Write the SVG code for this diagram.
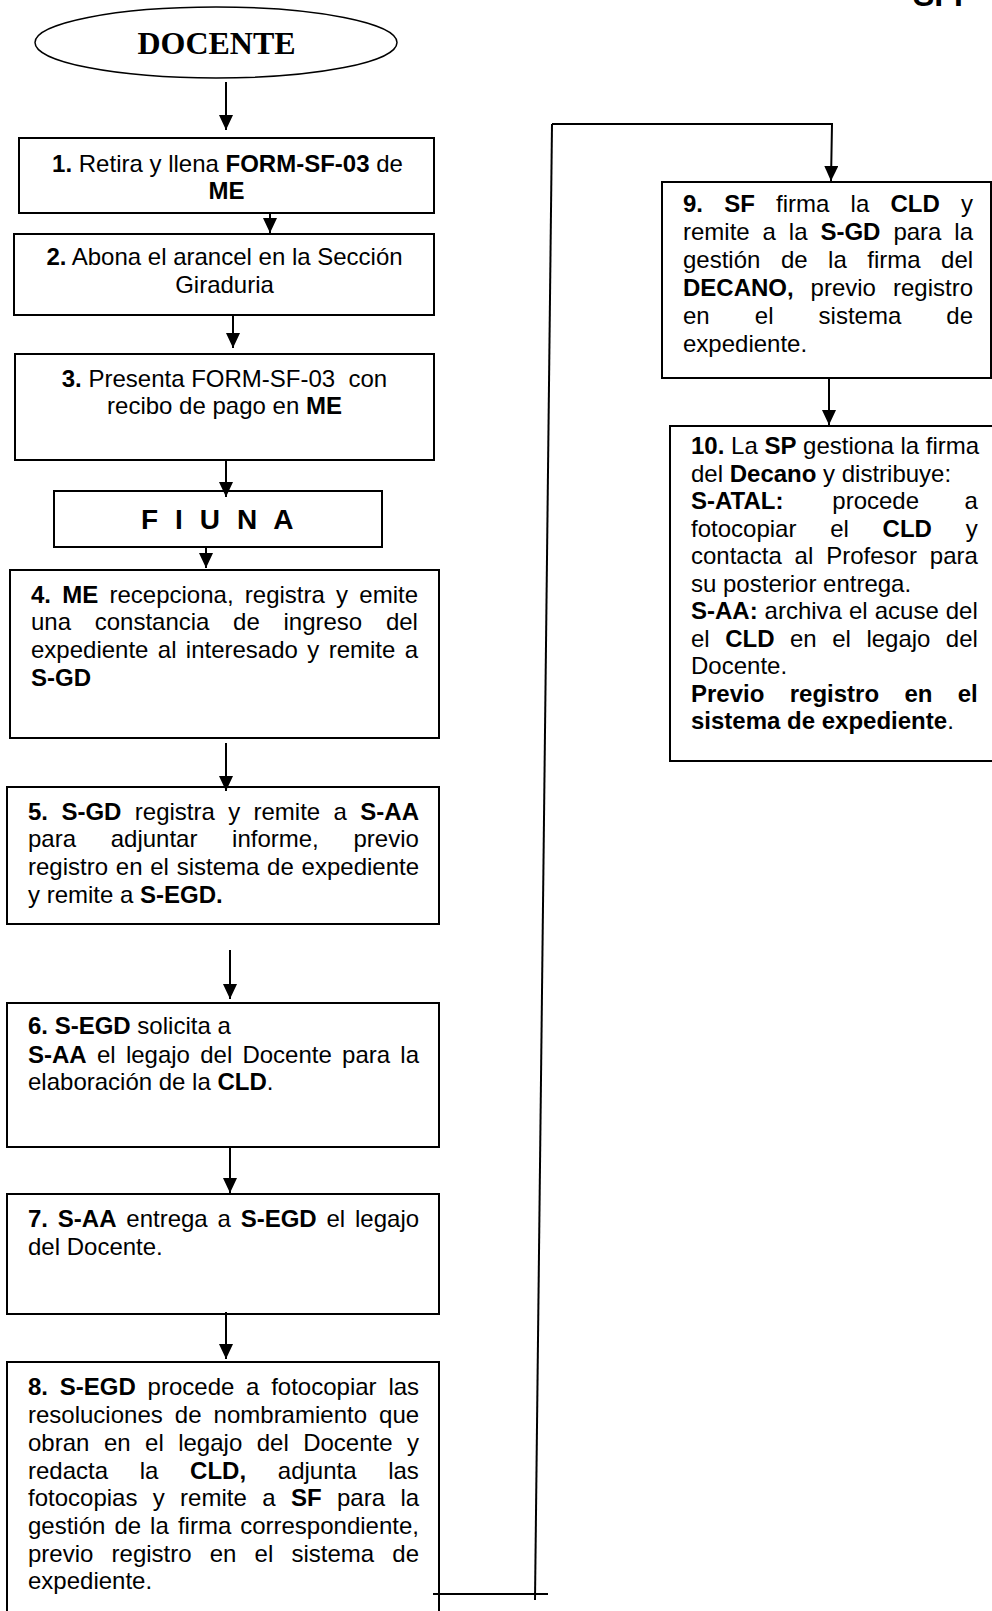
<svg xmlns="http://www.w3.org/2000/svg" width="992" height="1611" viewBox="0 0 992 1611">
<style>
text{font-family:"Liberation Sans",Arial,sans-serif;font-size:24px;fill:#000}
.b{font-weight:bold}
.c{text-anchor:middle}
.e{text-anchor:end}
.box{fill:#fff;stroke:#000;stroke-width:2}
.ln{fill:none;stroke:#000;stroke-width:2}
</style>
<defs>
<marker id="ah" viewBox="0 0 15 14" refX="15" refY="7" markerWidth="15" markerHeight="14" markerUnits="userSpaceOnUse" orient="auto">
<path d="M0,0 L15,7 L0,14 z" fill="#000"/>
</marker>
</defs>
<rect width="992" height="1611" fill="#fff"/>
<text x="913" y="6" class="b" style="font-size:32px">SFI</text>

<g id="start">
<ellipse cx="216" cy="42.5" rx="181" ry="35.5" fill="#fff" stroke="#000" stroke-width="1.5"/>
<text x="216.5" y="54" class="b c" style="font-family:'Liberation Serif','Times New Roman',serif;font-size:32px">DOCENTE</text>
</g>

<g id="n1">
<rect class="box" x="19" y="138" width="415" height="75"/>
<text x="227.5" y="172" class="c"><tspan class="b">1.</tspan> Retira y llena <tspan class="b">FORM-SF-03</tspan> de</text>
<text x="226.5" y="199" class="c b">ME</text>
</g>

<g id="n2">
<rect class="box" x="14" y="234" width="420" height="81"/>
<text x="224.5" y="265" class="c"><tspan class="b">2.</tspan> Abona el arancel en la Sección</text>
<text x="224.5" y="293" class="c">Giraduria</text>
</g>

<g id="n3">
<rect class="box" x="15" y="354" width="419" height="106"/>
<text x="224.5" y="387" class="c"><tspan class="b">3.</tspan> Presenta FORM-SF-03&#160; con</text>
<text x="224.5" y="414" class="c">recibo de pago en <tspan class="b">ME</tspan></text>
</g>

<g id="fiuna">
<rect class="box" x="54" y="491" width="328" height="56"/>
<text x="141" y="529" class="b" style="font-size:28px;letter-spacing:4.6px">F I U N A</text>
</g>

<g id="n4">
<rect class="box" x="10" y="570" width="429" height="168"/>
<text y="603"><tspan x="31" class="b">4.</tspan><tspan x="62.2" class="b">ME</tspan><tspan x="109.5">recepciona,</tspan><tspan x="244.8">registra</tspan><tspan x="336">y</tspan><tspan x="359.3">emite</tspan></text>
<text y="630"><tspan x="31">una</tspan><tspan x="94.7">constancia</tspan><tspan x="233.1">de</tspan><tspan x="283.5">ingreso</tspan><tspan x="385.9">del</tspan></text>
<text y="658"><tspan x="31">expediente</tspan><tspan x="157.8">al</tspan><tspan x="185.8">interesado</tspan><tspan x="307.3">y</tspan><tspan x="328.7">remite</tspan><tspan x="404.7">a</tspan></text>
<text x="31" y="686" class="b">S-GD</text>
</g>

<g id="n5">
<rect class="box" x="7" y="787" width="432" height="137"/>
<text y="819.5"><tspan x="28" class="b">5.</tspan><tspan x="61.4" class="b">S-GD</tspan><tspan x="134.8">registra</tspan><tspan x="228.2">y</tspan><tspan x="253.5">remite</tspan><tspan x="333.6">a</tspan><tspan x="360.3" class="b">S-AA</tspan></text>
<text y="847.2"><tspan x="28">para</tspan><tspan x="110.7">adjuntar</tspan><tspan x="232.1">informe,</tspan><tspan x="353.5">previo</tspan></text>
<text y="874.9"><tspan x="28">registro</tspan><tspan x="115.8">en</tspan><tspan x="150.2">el</tspan><tspan x="176.7">sistema</tspan><tspan x="267.1">de</tspan><tspan x="301.6">expediente</tspan></text>
<text x="28" y="902.6">y remite a <tspan class="b">S-EGD.</tspan></text>
</g>

<g id="n6">
<rect class="box" x="7" y="1003" width="432" height="144"/>
<text x="28" y="1034"><tspan class="b">6. S-EGD</tspan> solicita a</text>
<text y="1062.7"><tspan x="28" class="b">S-AA</tspan><tspan x="97">el</tspan><tspan x="125.9">legajo</tspan><tspan x="200.2">del</tspan><tspan x="242.4">Docente</tspan><tspan x="342.1">para</tspan><tspan x="400.3">la</tspan></text>
<text x="28" y="1090.4">elaboración de la <tspan class="b">CLD</tspan>.</text>
</g>

<g id="n7">
<rect class="box" x="7" y="1194" width="432" height="120"/>
<text y="1227"><tspan x="28" class="b">7.</tspan><tspan x="57.8" class="b">S-AA</tspan><tspan x="126.3">entrega</tspan><tspan x="217.5">a</tspan><tspan x="240.7" class="b">S-EGD</tspan><tspan x="326.5">el</tspan><tspan x="355">legajo</tspan></text>
<text x="28" y="1255">del Docente.</text>
</g>

<g id="n8">
<rect class="box" x="7" y="1362" width="432" height="270"/>
<text y="1395"><tspan x="28" class="b">8.</tspan><tspan x="59.8" class="b">S-EGD</tspan><tspan x="147.6">procede</tspan><tspan x="246.1">a</tspan><tspan x="271.2">fotocopiar</tspan><tspan x="388.4">las</tspan></text>
<text y="1423"><tspan x="28">resoluciones</tspan><tspan x="174.8">de</tspan><tspan x="213.6">nombramiento</tspan><tspan x="379.1">que</tspan></text>
<text y="1451"><tspan x="28">obran</tspan><tspan x="103.9">en</tspan><tspan x="145.1">el</tspan><tspan x="178.2">legajo</tspan><tspan x="256.7">del</tspan><tspan x="303.2">Docente</tspan><tspan x="407">y</tspan></text>
<text y="1479"><tspan x="28">redacta</tspan><tspan x="139.7">la</tspan><tspan x="190.1" class="b">CLD,</tspan><tspan x="277.8">adjunta</tspan><tspan x="388.2">las</tspan></text>
<text y="1506"><tspan x="28">fotocopias</tspan><tspan x="152.8">y</tspan><tspan x="180.1">remite</tspan><tspan x="262.2">a</tspan><tspan x="290.9" class="b">SF</tspan><tspan x="337">para</tspan><tspan x="400.4">la</tspan></text>
<text y="1534"><tspan x="28">gestión</tspan><tspan x="114.4">de</tspan><tspan x="150.1">la</tspan><tspan x="177.9">firma</tspan><tspan x="240.2">correspondiente,</tspan></text>
<text y="1562"><tspan x="28">previo</tspan><tspan x="111.6">registro</tspan><tspan x="209.7">en</tspan><tspan x="254.6">el</tspan><tspan x="291.5">sistema</tspan><tspan x="392.3">de</tspan></text>
<text x="28" y="1589">expediente.</text>
</g>

<g id="n9">
<rect class="box" x="662" y="182" width="329" height="196"/>
<text y="212"><tspan x="683" class="b">9.</tspan><tspan x="724.2" class="b">SF</tspan><tspan x="776.1">firma</tspan><tspan x="850.6">la</tspan><tspan x="890.5" class="b">CLD</tspan><tspan x="961">y</tspan></text>
<text y="240"><tspan x="683">remite</tspan><tspan x="762.6">a</tspan><tspan x="788.8">la</tspan><tspan x="820.4" class="b">S-GD</tspan><tspan x="893.4">para</tspan><tspan x="954.3">la</tspan></text>
<text y="268"><tspan x="683">gestión</tspan><tspan x="780.9">de</tspan><tspan x="828.1">la</tspan><tspan x="867.3">firma</tspan><tspan x="941.1">del</tspan></text>
<text y="296"><tspan x="683" class="b">DECANO,</tspan><tspan x="810.6">previo</tspan><tspan x="893">registro</tspan></text>
<text y="324"><tspan x="683">en</tspan><tspan x="754.8">el</tspan><tspan x="818.6">sistema</tspan><tspan x="946.3">de</tspan></text>
<text x="683" y="352">expediente.</text>
</g>

<g id="n10">
<rect class="box" x="670" y="426" width="330" height="335"/>
<text x="691" y="454"><tspan class="b">10.</tspan> La <tspan class="b">SP</tspan> gestiona la firma</text>
<text x="691" y="482">del <tspan class="b">Decano</tspan> y distribuye:</text>
<text y="509"><tspan x="691" class="b">S-ATAL:</tspan><tspan x="832.3">procede</tspan><tspan x="964.4">a</tspan></text>
<text y="537"><tspan x="691">fotocopiar</tspan><tspan x="830.2">el</tspan><tspan x="882.6" class="b">CLD</tspan><tspan x="965.7">y</tspan></text>
<text y="564"><tspan x="691">contacta</tspan><tspan x="794.6">al</tspan><tspan x="826.2">Profesor</tspan><tspan x="929.8">para</tspan></text>
<text x="691" y="592">su posterior entrega.</text>
<text y="619"><tspan x="691" class="b">S-AA:</tspan><tspan x="764.6">archiva</tspan><tspan x="849">el</tspan><tspan x="874.7">acuse</tspan><tspan x="945.7">del</tspan></text>
<text y="647"><tspan x="691">el</tspan><tspan x="725.2" class="b">CLD</tspan><tspan x="790">en</tspan><tspan x="832.2">el</tspan><tspan x="866.4">legajo</tspan><tspan x="945.8">del</tspan></text>
<text x="691" y="674">Docente.</text>
<text y="702" class="b"><tspan x="691">Previo</tspan><tspan x="789.7">registro</tspan><tspan x="904.4">en</tspan><tspan x="957.7">el</tspan></text>
<text x="691" y="729"><tspan class="b">sistema de expediente</tspan>.</text>
</g>

<g id="connectors">
<line class="ln" x1="226" y1="82" x2="226" y2="130" marker-end="url(#ah)"/>
<line class="ln" x1="270" y1="213" x2="270" y2="233" marker-end="url(#ah)"/>
<line class="ln" x1="233" y1="315" x2="233" y2="348" marker-end="url(#ah)"/>
<line class="ln" x1="226" y1="460" x2="226" y2="497" marker-end="url(#ah)"/>
<line class="ln" x1="206" y1="547" x2="206" y2="568" marker-end="url(#ah)"/>
<line class="ln" x1="226" y1="743" x2="226" y2="791" marker-end="url(#ah)"/>
<line class="ln" x1="230" y1="950" x2="230" y2="999" marker-end="url(#ah)"/>
<line class="ln" x1="230" y1="1147" x2="230" y2="1193" marker-end="url(#ah)"/>
<line class="ln" x1="226" y1="1312" x2="226" y2="1359" marker-end="url(#ah)"/>
<line class="ln" x1="433" y1="1594" x2="548" y2="1594"/>
<line class="ln" x1="535" y1="1600" x2="552" y2="124"/>
<polyline class="ln" points="552,124 832,124 831,181" marker-end="url(#ah)"/>
<line class="ln" x1="829" y1="378" x2="829" y2="425" marker-end="url(#ah)"/>
</g>
</svg>
